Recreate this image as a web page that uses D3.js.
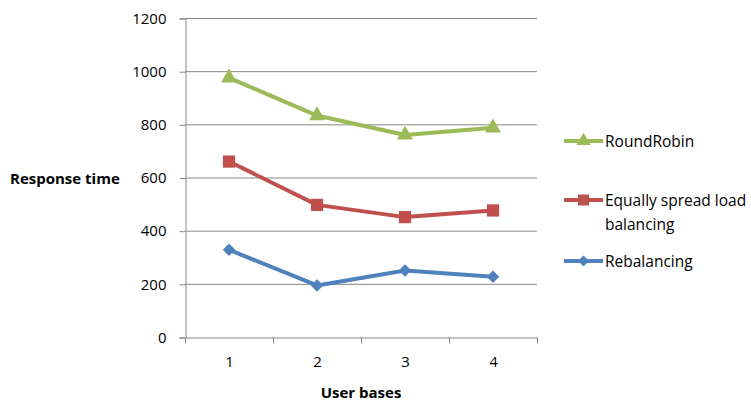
<!DOCTYPE html>
<html>
<head>
<meta charset="utf-8">
<script src="https://cdn.jsdelivr.net/npm/d3@7/dist/d3.min.js"></script>
<style>
  html, body { margin: 0; padding: 0; background: #fff; }
  svg { display: block; }
  text { font-family: "Open Sans", "Liberation Sans", sans-serif; fill: #000; }
</style>
</head>
<body>
<svg id="chart" width="751" height="403"></svg>
<script>
// Categories and series values
const userBases = ["1", "2", "3", "4"];
const roundRobin = [975, 833, 760, 787];
const equallySpread = [660, 497, 451, 476];
const rebalancing = [328, 194, 250, 227];
const yTicks = [0, 200, 400, 600, 800, 1000, 1200];

// rotate: square symbols turned 45° become the wide diamond marker
const series = [
  { name: ["RoundRobin"], values: roundRobin, color: "#9BBB59", marker: d3.symbolTriangle, size: 110, rotate: 0 },
  { name: ["Equally spread load", "balancing"], values: equallySpread, color: "#C0504D", marker: d3.symbolSquare, size: 150, rotate: 0 },
  { name: ["Rebalancing"], values: rebalancing, color: "#4F81BD", marker: d3.symbolSquare, size: 78, rotate: 45 }
];

const svg = d3.select("#chart");
const plot = { left: 185, right: 537, top: 18, bottom: 337 };

const x = d3.scaleBand().domain(userBases).range([plot.left, plot.right]);
const y = d3.scaleLinear().domain([0, 1200]).range([plot.bottom, plot.top]);

// Horizontal gridlines
svg.append("g")
  .selectAll("line")
  .data(yTicks.filter(t => t > 0))
  .join("line")
  .attr("x1", plot.left).attr("x2", plot.right)
  .attr("y1", d => y(d) + 0.5).attr("y2", d => y(d) + 0.5)
  .attr("stroke", "#878787").attr("stroke-width", 1);

// Y axis
const yAxis = svg.append("g")
  .attr("transform", `translate(${plot.left + 0.5},0.5)`)
  .call(d3.axisLeft(y).tickValues(yTicks).tickFormat(d3.format("d")).tickSize(6).tickPadding(13));
yAxis.select(".domain").attr("stroke", "#878787");
yAxis.selectAll(".tick line").attr("stroke", "#878787");
yAxis.selectAll(".tick text")
  .style("font-family", "'Open Sans', sans-serif")
  .style("font-size", "15px").attr("fill", "#000");

// X axis with tick marks at category boundaries
const xAxis = svg.append("g")
  .attr("transform", `translate(0.5,${plot.bottom + 0.5})`)
  .call(d3.axisBottom(x).tickSize(0).tickPadding(19));
xAxis.select(".domain").attr("stroke", "#878787");
xAxis.selectAll(".tick text")
  .style("font-family", "'Open Sans', sans-serif")
  .style("font-size", "15px").attr("fill", "#000");
const bounds = userBases.map(d => x(d)).concat([x(userBases[userBases.length - 1]) + x.bandwidth()]);
xAxis.append("g")
  .selectAll("line")
  .data(bounds)
  .join("line")
  .attr("x1", d => d).attr("x2", d => d)
  .attr("y1", 0).attr("y2", 6)
  .attr("stroke", "#878787");

// Series lines and markers
const line = d3.line()
  .x((d, i) => x(userBases[i]) + x.bandwidth() / 2)
  .y(d => y(d));

series.forEach(s => {
  svg.append("path")
    .datum(s.values)
    .attr("d", line)
    .attr("fill", "none")
    .attr("stroke", s.color)
    .attr("stroke-width", 4)
    .attr("stroke-linejoin", "round");
  svg.append("g")
    .selectAll("path")
    .data(s.values)
    .join("path")
    .attr("transform", (d, i) => `translate(${x(userBases[i]) + x.bandwidth() / 2},${y(d)}) rotate(${s.rotate})`)
    .attr("d", d3.symbol().type(s.marker).size(s.size))
    .attr("fill", s.color);
});

// Axis titles
svg.append("text")
  .attr("x", 10).attr("y", 184)
  .style("font-size", "15px").style("font-weight", "bold")
  .text("Response time");
svg.append("text")
  .attr("x", 361).attr("y", 398)
  .attr("text-anchor", "middle")
  .style("font-size", "15px").style("font-weight", "bold")
  .text("User bases");

// Legend
const legendRows = [141, 200, 261];
series.forEach((s, i) => {
  const g = svg.append("g").attr("transform", `translate(564,${legendRows[i]})`);
  g.append("line")
    .attr("x1", 0).attr("x2", 39).attr("y1", 0).attr("y2", 0)
    .attr("stroke", s.color).attr("stroke-width", 4);
  g.append("path")
    .attr("transform", `translate(19.5,0) rotate(${s.rotate})`)
    .attr("d", d3.symbol().type(s.marker).size(s.size * 0.8))
    .attr("fill", s.color);
  const t = g.append("text")
    .attr("x", 41).attr("y", 6)
    .style("font-size", "15.5px");
  s.name.forEach((ln, j) => {
    t.append("tspan").attr("x", 41).attr("dy", j === 0 ? 0 : 24).text(ln);
  });
});
</script>
</body>
</html>
